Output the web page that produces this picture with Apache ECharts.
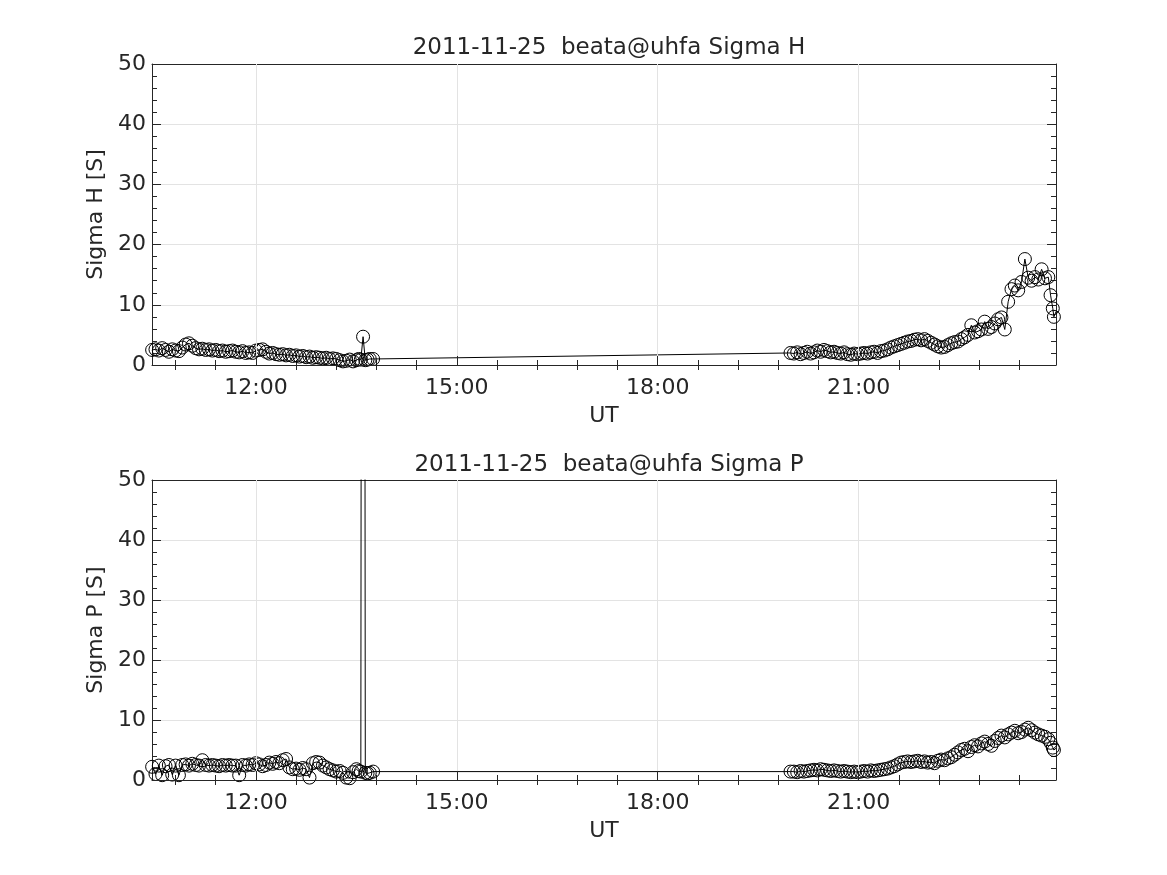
<!DOCTYPE html>
<html>
<head>
<meta charset="utf-8">
<script src="https://cdn.jsdelivr.net/npm/echarts@6/dist/echarts.min.js"></script>
<style>
html,body{margin:0;padding:0;background:#fff;}
#chart{width:1167px;height:875px;}
</style>
</head>
<body>
<div id="chart"></div>
<script>
// ---- Data (UT time of day, Sigma H, Sigma P in Siemens) ----
const titleH = '2011-11-25  beata@uhfa Sigma H';
const titleP = '2011-11-25  beata@uhfa Sigma P';
const xMin = '10:27';
const xMax = '23:57';
const majorTickLabels = ['12:00', '15:00', '18:00', '21:00'];
const minorTickTimes = ['10:48','11:24','12:36','13:12','13:48','14:24','15:36','16:12','16:48','17:24',
  '18:36','19:12','19:48','20:24','21:36','22:12','22:48','23:24'];
const yTicks = [0, 10, 20, 30, 40, 50];

const times = [
  '10:27','10:30','10:33','10:36','10:39','10:42','10:45','10:48','10:51','10:54','10:57',
  '11:00','11:03','11:06','11:09','11:12','11:15','11:18','11:21','11:24','11:27','11:30','11:33','11:36','11:39','11:42','11:45','11:48','11:51','11:54','11:57',
  '12:00','12:03','12:06','12:09','12:12','12:15','12:18','12:21','12:24','12:27','12:30','12:33','12:36','12:39','12:42','12:45','12:48','12:51','12:54','12:57',
  '13:00','13:03','13:06','13:09','13:12','13:15','13:18','13:21','13:24','13:27','13:30','13:32','13:34','13:36','13:38','13:40','13:42','13:45',
  '19:59',
  '20:02','20:05','20:08','20:11','20:14','20:17','20:20','20:23','20:26','20:29','20:32','20:35','20:38','20:41','20:44','20:47','20:50','20:53','20:56','20:59',
  '21:02','21:05','21:08','21:11','21:14','21:17','21:20','21:23','21:26','21:29','21:32','21:35','21:38','21:41','21:44','21:47','21:50','21:53','21:56','21:59',
  '22:02','22:05','22:08','22:11','22:14','22:17','22:20','22:23','22:26','22:29','22:32','22:35','22:38','22:41','22:44','22:47','22:50','22:53','22:56','22:59',
  '23:02','23:05','23:08','23:11','23:14','23:17','23:20','23:23','23:26','23:29','23:32','23:35','23:38','23:41','23:44','23:47','23:50','23:52','23:54','23:55','23:57'
];

const sigmaH = [
  2.5, 2.6, 2.4, 2.8, 2.5, 2.2, 2.6, 2.4, 2.3, 2.9, 3.4,
  3.6, 3.2, 2.8, 2.6, 2.7, 2.5, 2.6, 2.4, 2.5, 2.3, 2.4, 2.2, 2.3, 2.4, 2.2, 2.1, 2.3, 2.0, 2.1, 2.0,
  2.4, 2.5, 2.6, 2.2, 1.9, 2.0, 1.8, 1.7, 1.8, 1.6, 1.7, 1.5, 1.6, 1.4, 1.5, 1.3, 1.4, 1.2, 1.3, 1.2,
  1.1, 1.2, 1.0, 1.1, 1.0, 0.8, 0.6, 0.7, 0.9, 0.6, 0.8, 1.0, 0.9, 4.7, 0.8, 0.9, 1.0, 1.0,
  2.0,
  1.9, 2.1, 1.8, 2.0, 2.2, 1.9, 2.1, 2.4, 2.2, 2.5, 2.3, 2.1, 2.2, 2.0, 1.9, 2.1, 1.8, 1.7, 1.9, 1.8,
  1.9, 2.0, 1.9, 2.1, 2.2, 2.0, 2.3, 2.4, 2.6, 2.9, 3.1, 3.3, 3.5, 3.7, 3.9, 4.0, 4.2, 4.3, 4.1, 4.3,
  4.0, 3.7, 3.4, 3.1, 2.9, 3.0, 3.3, 3.6, 3.8, 3.9, 4.3, 4.6, 5.0, 6.6, 5.4, 5.6, 5.9, 7.2, 6.0, 6.3,
  6.9, 7.6, 7.9, 5.9, 10.5, 12.6, 13.2, 12.4, 13.8, 17.6, 14.5, 14.0, 14.6, 14.2, 15.9, 14.4, 14.6, 11.6, 9.4, 8.0, 8.9
];

const sigmaP = [
  2.2, 1.0, 2.4, 0.8, 2.3, 2.5, 0.9, 2.4, 0.8, 2.5, 2.6,
  2.4, 2.7, 2.5, 2.4, 3.3, 2.5, 2.4, 2.5, 2.4, 2.3, 2.5, 2.4, 2.5, 2.4, 2.4, 0.8, 2.5, 2.4, 2.6, 2.5,
  2.8, 2.6, 2.3, 2.5, 2.9, 2.7, 3.0, 2.8, 3.3, 3.5, 2.1, 1.8, 1.9, 1.7, 2.0, 1.8, 0.4, 2.8, 3.0, 2.9,
  2.4, 2.1, 1.8, 1.6, 1.4, 1.5, 1.2, 0.4, 0.3, 1.3, 1.8, 1.5, 1.4, 400, 1.2, 1.1, 1.2, 1.4,
  1.4,
  1.4, 1.3, 1.5, 1.4, 1.5, 1.6, 1.7, 1.6, 1.8, 1.7, 1.6, 1.5, 1.6, 1.5, 1.4, 1.5, 1.4, 1.3, 1.4, 1.3,
  1.4, 1.5, 1.4, 1.6, 1.5, 1.6, 1.7, 1.8, 1.9, 2.1, 2.3, 2.6, 2.9, 3.0, 3.1, 3.0, 3.1, 3.2, 3.0, 3.1,
  2.9, 3.0, 2.8, 3.2, 3.4, 3.3, 3.6, 3.8, 4.2, 4.6, 5.0, 5.2, 4.8, 5.5, 5.8, 5.6, 6.1, 6.4, 6.0, 5.7,
  6.5, 7.0, 7.4, 7.1, 7.6, 7.9, 8.2, 7.8, 8.0, 8.4, 8.7, 8.3, 7.9, 7.6, 7.4, 7.2, 6.8, 6.2, 5.4, 5.0, 5.3
];

// ---- helpers ----
function toHours(s) { const p = s.split(':'); return +p[0] + (+p[1]) / 60; }
function fmtHour(v) { const h = Math.floor(v + 1e-6); const m = Math.round((v - h) * 60); return String(h).padStart(2, '0') + ':' + String(m).padStart(2, '0'); }

const X0 = toHours(xMin) - 0.002, X1 = toHours(xMax) - 0.002;
const majors = majorTickLabels.map(toHours);
const minors = minorTickTimes.map(toHours);
const dataH = times.map((t, i) => [toHours(t), sigmaH[i]]);
const dataP = times.map((t, i) => [toHours(t), sigmaP[i]]);

const INK = '#262626';
const GRIDC = '#e3e3e3';
const FONT = 'DejaVu Sans';
const FS = 22;
const FST = 23;

const grids = [
  { left: 152, top: 64, width: 904, height: 301 },
  { left: 152, top: 480, width: 904, height: 300 }
];

function xAxesFor(g) {
  const base = { type: 'value', gridIndex: g, min: X0, max: X1, scale: false };
  return [
    Object.assign({}, base, {
      position: 'bottom',
      name: 'UT', nameLocation: 'middle', nameGap: 40,
      nameTextStyle: { fontFamily: FONT, fontSize: FS, color: INK },
      axisLine: { show: true, onZero: false, lineStyle: { color: INK, width: 1 } },
      axisTick: { show: true, inside: true, length: 9, customValues: majors, lineStyle: { color: INK } },
      axisLabel: { show: true, customValues: majors, formatter: fmtHour, fontFamily: FONT, fontSize: FS, color: INK, margin: 12 },
      splitLine: { show: true, lineStyle: { color: GRIDC, width: 1 } },
      z: 5
    }),
    Object.assign({}, base, {
      position: 'bottom',
      axisLine: { show: false },
      axisTick: { show: true, inside: true, length: 5, customValues: minors, lineStyle: { color: INK } },
      axisLabel: { show: false },
      splitLine: { show: false }
    }),
    Object.assign({}, base, {
      position: 'top',
      axisLine: { show: true, onZero: false, lineStyle: { color: INK, width: 1 } },
      axisTick: { show: true, inside: true, length: 9, customValues: majors, lineStyle: { color: INK } },
      axisLabel: { show: false },
      splitLine: { show: false }
    }),
    Object.assign({}, base, {
      position: 'top',
      axisLine: { show: false },
      axisTick: { show: true, inside: true, length: 5, customValues: minors, lineStyle: { color: INK } },
      axisLabel: { show: false },
      splitLine: { show: false }
    })
  ];
}

function yAxesFor(g, name) {
  const base = { type: 'value', gridIndex: g, min: yTicks[0], max: yTicks[yTicks.length - 1], interval: yTicks[1] - yTicks[0] };
  return [
    Object.assign({}, base, {
      position: 'left',
      name: name, nameLocation: 'middle', nameGap: 44,
      nameTextStyle: { fontFamily: FONT, fontSize: FS, color: INK },
      axisLine: { show: true, onZero: false, lineStyle: { color: INK, width: 1 } },
      axisTick: { show: true, inside: true, length: 9, lineStyle: { color: INK } },
      minorTick: { show: true, splitNumber: 5, length: 5, lineStyle: { color: INK } },
      axisLabel: { show: true, fontFamily: FONT, fontSize: FS, color: INK, margin: 6 },
      splitLine: { show: true, lineStyle: { color: GRIDC, width: 1 } }
    }),
    Object.assign({}, base, {
      position: 'right',
      axisLine: { show: true, onZero: false, lineStyle: { color: INK, width: 1 } },
      axisTick: { show: true, inside: true, length: 9, lineStyle: { color: INK } },
      minorTick: { show: true, splitNumber: 5, length: 5, lineStyle: { color: INK } },
      axisLabel: { show: false },
      splitLine: { show: false }
    })
  ];
}

function seriesFor(g, data) {
  return {
    type: 'line',
    xAxisIndex: g * 4, yAxisIndex: g * 2,
    data: data,
    symbol: 'circle', symbolSize: 13, showAllSymbol: true,
    clip: true,
    lineStyle: { color: '#000', width: 1 },
    itemStyle: { color: 'rgba(0,0,0,0)', borderColor: '#000', borderWidth: 1 },
    emphasis: { disabled: true },
    z: 3
  };
}

const chart = echarts.init(document.getElementById('chart'), null, { renderer: 'canvas' });
chart.setOption({
  backgroundColor: '#fff',
  animation: false,
  title: [
    { text: titleH, left: 604, top: 32, textAlign: 'center', textStyle: { fontFamily: FONT, fontSize: FST, fontWeight: 'normal', color: INK } },
    { text: titleP, left: 604, top: 449, textAlign: 'center', textStyle: { fontFamily: FONT, fontSize: FST, fontWeight: 'normal', color: INK } }
  ],
  grid: grids,
  xAxis: xAxesFor(0).concat(xAxesFor(1)),
  yAxis: yAxesFor(0, 'Sigma H [S]').concat(yAxesFor(1, 'Sigma P [S]')),
  series: [seriesFor(0, dataH), seriesFor(1, dataP)]
});
</script>
</body>
</html>
